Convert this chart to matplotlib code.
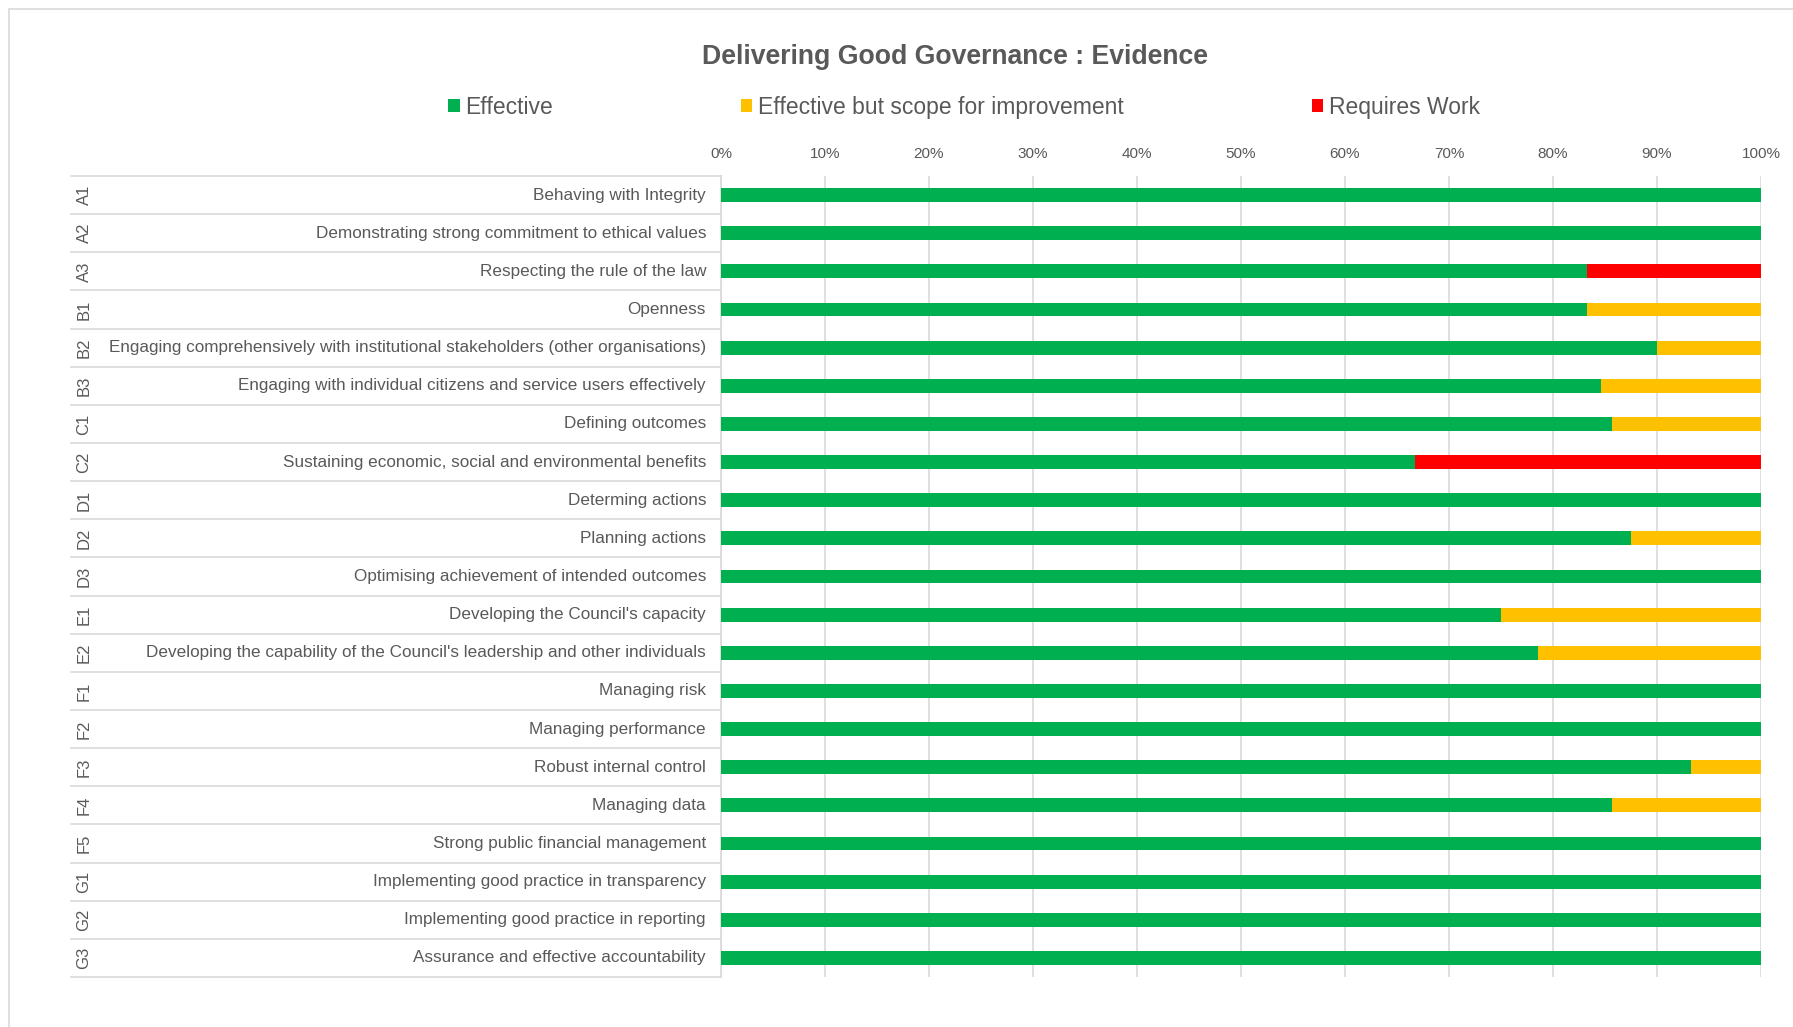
import matplotlib
matplotlib.use('Agg')
import matplotlib.pyplot as plt
import matplotlib.transforms as mtransforms
from matplotlib.patches import Patch, Rectangle
import numpy as np

plt.rcParams['font.family'] = ['Liberation Sans', 'DejaVu Sans']

codes = ['A1', 'A2', 'A3', 'B1', 'B2', 'B3', 'C1', 'C2', 'D1', 'D2', 'D3',
         'E1', 'E2', 'F1', 'F2', 'F3', 'F4', 'F5', 'G1', 'G2', 'G3']
labels = ['Behaving with Integrity',
          'Demonstrating strong commitment to ethical values',
          'Respecting the rule of the law',
          'Openness',
          'Engaging comprehensively with institutional stakeholders (other organisations)',
          'Engaging with individual citizens and service users effectively',
          'Defining outcomes',
          'Sustaining economic, social and environmental benefits',
          'Determing actions',
          'Planning actions',
          'Optimising achievement of intended outcomes',
          "Developing the Council's capacity",
          "Developing the capability of the Council's leadership and other individuals",
          'Managing risk',
          'Managing performance',
          'Robust internal control',
          'Managing data',
          'Strong public financial management',
          'Implementing good practice in transparency',
          'Implementing good practice in reporting',
          'Assurance and effective accountability']

effective = [1.0, 1.0, 0.833, 0.833, 0.90, 0.846, 0.857, 0.667, 1.0, 0.875, 1.0,
             0.75, 0.786, 1.0, 1.0, 0.933, 0.857, 1.0, 1.0, 1.0, 1.0]
improve = [0.0, 0.0, 0.0, 0.167, 0.10, 0.154, 0.143, 0.0, 0.0, 0.125, 0.0,
           0.25, 0.214, 0.0, 0.0, 0.067, 0.143, 0.0, 0.0, 0.0, 0.0]
requires = [0.0, 0.0, 0.167, 0.0, 0.0, 0.0, 0.0, 0.333, 0.0, 0.0, 0.0,
            0.0, 0.0, 0.0, 0.0, 0.0, 0.0, 0.0, 0.0, 0.0, 0.0]

series_names = ['Effective', 'Effective but scope for improvement', 'Requires Work']
colors = ['#00B050', '#FFC000', '#FF0000']
grey = '#595959'
gridc = '#D9D9D9'

W, H = 1793, 1027
fig = plt.figure(figsize=(W / 100, H / 100), dpi=100)

# chart area border
fig.patches.append(Rectangle((9 / W, -0.1), 1.2, 1 - 9 / H + 0.1, transform=fig.transFigure,
                             fill=False, edgecolor=gridc, lw=1.2))

x0, x1 = 721, 1761
y0, y1 = 176, 977
ax = fig.add_axes([x0 / W, 1 - y1 / H, (x1 - x0) / W, (y1 - y0) / H])

y = np.arange(len(codes))
left = np.zeros(len(codes))
for vals, c in zip([effective, improve, requires], colors):
    ax.barh(y, vals, left=left, height=0.36, color=c, zorder=3)
    left += np.array(vals)

ax.set_xlim(0, 1)
ax.set_ylim(len(codes) - 0.5, -0.5)
ax.set_xticks(np.arange(0, 1.01, 0.1))
ax.set_xticklabels([f'{int(round(t * 100))}%' for t in np.arange(0, 1.01, 0.1)])
ax.xaxis.tick_top()
ax.tick_params(axis='x', length=0, pad=11, labelsize=11, labelcolor=grey)
ax.set_yticks([])
ax.grid(axis='x', color=gridc, lw=1.2, zorder=0)
for s in ['top', 'right', 'bottom']:
    ax.spines[s].set_visible(False)
ax.spines['left'].set_color(gridc)
ax.spines['left'].set_linewidth(1.2)

# two-level category labels
trans = mtransforms.blended_transform_factory(ax.transAxes, ax.transData)
lab_x = (706 - x0) / (x1 - x0)
code_x = (84 - x0) / (x1 - x0)
line_x = (71 - x0) / (x1 - x0)
for i, (cd, lb) in enumerate(zip(codes, labels)):
    ax.text(lab_x, i, lb, transform=trans, ha='right', va='center',
            fontsize=12.3, color=grey)
    ax.text(code_x, i, cd, transform=trans, ha='center', va='center',
            rotation=90, fontsize=12, color=grey)
for i in range(len(codes) + 1):
    ax.plot([line_x, 0], [i - 0.5, i - 0.5], transform=trans, color=gridc,
            lw=1.2, clip_on=False)

fig.text(955 / W, 1 - 57 / H, 'Delivering Good Governance : Evidence',
         ha='center', va='center', fontsize=19.2, fontweight='bold', color=grey)

handles = [Patch(facecolor=c, edgecolor='none') for c in colors]
leg = fig.legend(handles, series_names, loc='center', ncol=3,
                 bbox_to_anchor=(964 / W, 1 - 107 / H), frameon=False,
                 fontsize=16.5, handlelength=0.5, handleheight=0.5,
                 handletextpad=0.25, columnspacing=8.2)
for t in leg.get_texts():
    t.set_color(grey)

fig.savefig('out.png', dpi=100, facecolor='white')
